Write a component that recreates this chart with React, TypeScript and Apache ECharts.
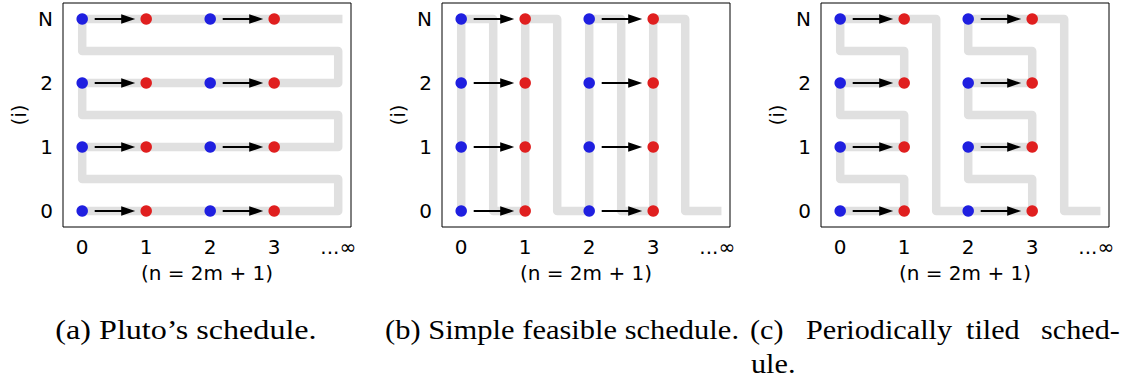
import React, { useEffect, useRef } from "react";
import * as echarts from "echarts";

// ---- data ----
const xTickValues = [0, 1, 2, 3, 4];
const xTickLabels = ["0", "1", "2", "3", "...∞"];
const yTickValues = [0, 1, 2, 3];
const yTickLabels = ["0", "1", "2", "N"];
const xAxisTitle = "(n = 2m + 1)";
const yAxisTitle = "(i)";

const blueColumns = [0, 2];
const redColumns = [1, 3];
const rows = [0, 1, 2, 3];
const arrowPairs = [
  [0, 1],
  [2, 3],
];

// schedule paths (x = n, y = i)
const pathPluto = [
  [4, 3], [0, 3], [0, 2.5], [4, 2.5], [4, 2], [0, 2], [0, 1.5], [4, 1.5],
  [4, 1], [0, 1], [0, 0.5], [4, 0.5], [4, 0], [0, 0],
];
const pathSimple = [
  [0, 0], [0, 3], [0.5, 3], [0.5, 0], [1, 0], [1, 3], [1.5, 3], [1.5, 0],
  [2, 0], [2, 3], [2.5, 3], [2.5, 0], [3, 0], [3, 3], [3.5, 3], [3.5, 0], [4, 0],
];
const pathTiled = [
  [0, 0], [1, 0], [1, 0.5], [0, 0.5], [0, 1], [1, 1], [1, 1.5], [0, 1.5],
  [0, 2], [1, 2], [1, 2.5], [0, 2.5], [0, 3], [1.5, 3], [1.5, 0], [2, 0],
  [3, 0], [3, 0.5], [2, 0.5], [2, 1], [3, 1], [3, 1.5], [2, 1.5], [2, 2],
  [3, 2], [3, 2.5], [2, 2.5], [2, 3], [3.5, 3], [3.5, 0], [4, 0],
];
const panelPaths = [pathPluto, pathSimple, pathTiled];

const captionA = "(a) Pluto’s schedule.";
const captionB = "(b) Simple feasible schedule.";
const captionCWords = ["(c)", "Periodically", "tiled", "sched-"];
const captionCLine2 = "ule.";

// ---- styles ----
const gridLefts = [63, 442, 821];
const BLUE = "#1f1fe0";
const RED = "#e01f1f";
const GRAY = "#e0e0e0";
const AXIS_FONT = "DejaVu Sans";
const AXIS_FS = 20;
const CAP_FONT = "Liberation Serif";

export default function App() {
  const ref = useRef<HTMLDivElement>(null);

  useEffect(() => {
    if (!ref.current) return;
    const chart = echarts.init(ref.current, null, { renderer: "svg" });

    const blueData = blueColumns.flatMap((x) => rows.map((y) => [x, y]));
    const redData = redColumns.flatMap((x) => rows.map((y) => [x, y]));
    const arrowData = arrowPairs.flatMap(([a, b]) => rows.map((y) => [a, b, y]));

    const grids = gridLefts.map((left) => ({
      left,
      top: 3,
      width: 288,
      height: 224,
      show: true,
      borderColor: "#000",
      borderWidth: 1,
      backgroundColor: "transparent",
    }));

    const xAxes = gridLefts.map((_, i) => ({
      gridIndex: i,
      type: "value",
      min: -0.3,
      max: 4.2,
      axisLine: { show: false },
      splitLine: { show: false },
      axisTick: {
        show: true,
        customValues: xTickValues,
        length: 3.5,
        lineStyle: { color: "#000", width: 1 },
      },
      axisLabel: {
        customValues: xTickValues,
        formatter: (v: number) => xTickLabels[xTickValues.indexOf(Math.round(v))] ?? "",
        fontFamily: AXIS_FONT,
        fontSize: AXIS_FS,
        color: "#000",
        margin: 10,
      },
      name: xAxisTitle,
      nameLocation: "middle",
      nameGap: 36,
      nameTextStyle: { fontFamily: AXIS_FONT, fontSize: AXIS_FS, color: "#000" },
    }));

    const yAxes = gridLefts.map((_, i) => ({
      gridIndex: i,
      type: "value",
      min: -0.25,
      max: 3.25,
      axisLine: { show: false },
      splitLine: { show: false },
      axisTick: {
        show: true,
        customValues: yTickValues,
        length: 3.5,
        lineStyle: { color: "#000", width: 1 },
      },
      axisLabel: {
        customValues: yTickValues,
        formatter: (v: number) => yTickLabels[yTickValues.indexOf(Math.round(v))] ?? "",
        fontFamily: AXIS_FONT,
        fontSize: AXIS_FS,
        color: "#000",
        margin: 10,
      },
      name: yAxisTitle,
      nameLocation: "middle",
      nameGap: 34,
      nameTextStyle: { fontFamily: AXIS_FONT, fontSize: AXIS_FS, color: "#000" },
    }));

    const series: any[] = [];
    panelPaths.forEach((path, i) => {
      series.push({
        type: "line",
        xAxisIndex: i,
        yAxisIndex: i,
        data: path,
        symbol: "none",
        showSymbol: false,
        silent: true,
        z: 1,
        lineStyle: { width: 8.5, color: GRAY, cap: "square", join: "round" },
      });
      series.push({
        type: "custom",
        xAxisIndex: i,
        yAxisIndex: i,
        z: 2,
        silent: true,
        data: arrowData,
        encode: { x: [0, 1], y: 2 },
        renderItem: (_params: any, api: any) => {
          const a = api.coord([api.value(0), api.value(2)]);
          const b = api.coord([api.value(1), api.value(2)]);
          const y = a[1];
          const x0 = a[0] + 12.5;
          const x1 = b[0] - 11;
          const headL = 14;
          const headW = 4.8;
          return {
            type: "group",
            children: [
              {
                type: "line",
                shape: { x1: x0, y1: y, x2: x1 - headL + 1, y2: y },
                style: { stroke: "#000", lineWidth: 2 },
              },
              {
                type: "polygon",
                shape: {
                  points: [
                    [x1, y],
                    [x1 - headL, y - headW],
                    [x1 - headL, y + headW],
                  ],
                },
                style: { fill: "#000" },
              },
            ],
          };
        },
      });
      series.push({
        type: "scatter",
        xAxisIndex: i,
        yAxisIndex: i,
        z: 3,
        data: blueData,
        symbolSize: 11.5,
        itemStyle: { color: BLUE, opacity: 1 },
      });
      series.push({
        type: "scatter",
        xAxisIndex: i,
        yAxisIndex: i,
        z: 3,
        data: redData,
        symbolSize: 11.5,
        itemStyle: { color: RED, opacity: 1 },
      });
    });

    const capStyle = (text: string, align: string) => ({
      text,
      font: `27px "${CAP_FONT}"`,
      fill: "#000",
      textAlign: align,
      textVerticalAlign: "middle",
    });
    const SXC = 1.12;
    // justified first line of caption (c): left end 750, right end 1120
    const cWordLefts = [750, 806, 966, 1041];

    const graphic: any[] = [
      { type: "text", x: 186, y: 330, scaleX: 1.19, style: capStyle(captionA, "center") },
      { type: "text", x: 562, y: 330, scaleX: 1.13, style: capStyle(captionB, "center") },
      ...captionCWords.map((w, k) => ({
        type: "text",
        x: cWordLefts[k],
        y: 330,
        scaleX: SXC,
        style: capStyle(w, "left"),
      })),
      { type: "text", x: 751, y: 364, scaleX: SXC, style: capStyle(captionCLine2, "left") },
    ];

    chart.setOption({
      animation: false,
      grid: grids,
      xAxis: xAxes,
      yAxis: yAxes,
      series,
      graphic,
    });

    return () => chart.dispose();
  }, []);

  return (
    <div
      ref={ref}
      style={{ position: "absolute", left: 0, top: 0, width: 1129, height: 381, background: "#fff" }}
    />
  );
}
